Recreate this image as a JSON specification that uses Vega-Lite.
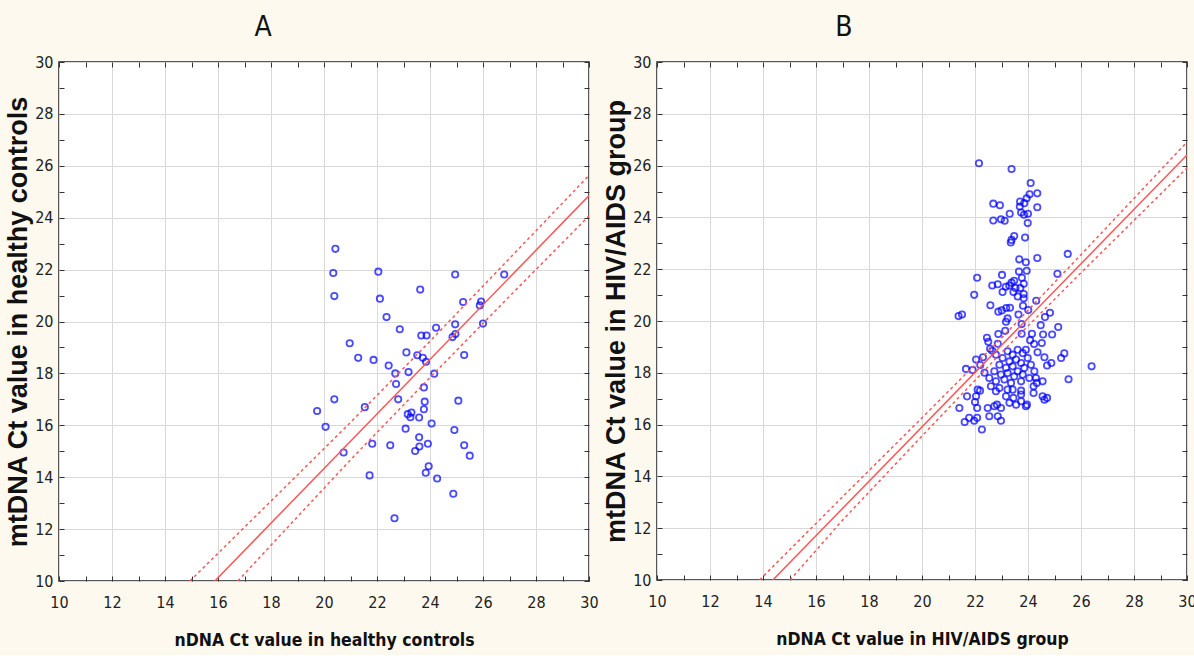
{
  "$schema": "https://vega.github.io/schema/vega-lite/v6.json",
  "background": "#fdf9ef",
  "padding": {"left": 3, "top": 13, "right": 0, "bottom": 5},
  "spacing": 2,
  "config": {
    "view": {"fill": "white", "stroke": "#222", "strokeWidth": 1.5},
    "axis": {
      "labelFont": "DejaVu Sans Condensed, Liberation Sans",
      "labelFontSize": 16,
      "labelColor": "#222",
      "tickColor": "#333",
      "domain": false,
      "labelFlush": false,
      "labelOverlap": false
    },
    "title": {"font": "DejaVu Sans Condensed, Liberation Sans", "fontSize": 28, "fontWeight": "normal", "color": "#111"}
  },
  "datasets": {
    "a": [
      {"x":20.43,"y":22.80},{"x":20.35,"y":21.87},{"x":22.05,"y":21.92},{"x":24.95,"y":21.81},{"x":26.80,"y":21.81},
      {"x":20.39,"y":20.98},{"x":23.63,"y":21.23},{"x":22.11,"y":20.88},{"x":25.25,"y":20.75},{"x":25.93,"y":20.77},
      {"x":25.88,"y":20.62},{"x":22.36,"y":20.17},{"x":22.86,"y":19.70},{"x":24.23,"y":19.76},{"x":24.95,"y":19.89},
      {"x":23.67,"y":19.46},{"x":23.87,"y":19.46},{"x":24.85,"y":19.40},{"x":24.96,"y":19.52},{"x":26.0,"y":19.92},
      {"x":20.97,"y":19.16},{"x":21.29,"y":18.60},{"x":21.87,"y":18.52},{"x":22.44,"y":18.30},{"x":23.11,"y":18.81},
      {"x":23.52,"y":18.70},{"x":23.73,"y":18.60},{"x":23.85,"y":18.45},{"x":22.69,"y":18.00},{"x":23.19,"y":18.05},
      {"x":24.16,"y":17.99},{"x":22.72,"y":17.59},{"x":25.29,"y":18.71},{"x":23.77,"y":17.46},{"x":20.39,"y":17.00},
      {"x":22.80,"y":17.00},{"x":23.80,"y":16.91},{"x":25.07,"y":16.95},{"x":19.74,"y":16.55},{"x":21.54,"y":16.70},
      {"x":23.77,"y":16.62},{"x":23.16,"y":16.43},{"x":23.30,"y":16.49},{"x":23.26,"y":16.31},{"x":23.59,"y":16.30},
      {"x":20.06,"y":15.94},{"x":23.08,"y":15.87},{"x":24.06,"y":16.07},{"x":24.92,"y":15.82},{"x":23.59,"y":15.54},
      {"x":23.60,"y":15.18},{"x":21.82,"y":15.29},{"x":22.50,"y":15.23},{"x":23.44,"y":15.01},{"x":23.92,"y":15.29},
      {"x":25.29,"y":15.23},{"x":25.50,"y":14.83},{"x":20.74,"y":14.95},{"x":23.95,"y":14.42},{"x":23.84,"y":14.17},
      {"x":24.27,"y":13.95},{"x":21.72,"y":14.07},{"x":24.88,"y":13.36},{"x":22.66,"y":12.42}
    ],
    "fitA": [{"x":15.88,"y":10.0},{"x":30,"y":24.85}],
    "bandA": [
      {"band":"upper","x":14.94,"y":10.0},{"band":"upper","x":18,"y":13.08},{"band":"upper","x":21,"y":16.11},
      {"band":"upper","x":24,"y":19.24},{"band":"upper","x":27,"y":22.43},{"band":"upper","x":30,"y":25.63},
      {"band":"lower","x":16.75,"y":10.0},{"band":"lower","x":18,"y":11.38},{"band":"lower","x":21,"y":14.67},
      {"band":"lower","x":24,"y":17.84},{"band":"lower","x":27,"y":20.97},{"band":"lower","x":30,"y":24.07}
    ],
    "b": [
      {"x":22.15,"y":26.09},{"x":23.38,"y":25.87},{"x":24.10,"y":25.33},{"x":24.35,"y":24.93},{"x":24.06,"y":24.89},
      {"x":23.95,"y":24.74},{"x":23.86,"y":24.55},{"x":23.70,"y":24.61},{"x":23.69,"y":24.42},{"x":22.69,"y":24.53},
      {"x":22.94,"y":24.47},{"x":24.35,"y":24.39},{"x":23.31,"y":24.14},{"x":23.74,"y":24.19},{"x":23.85,"y":24.10},
      {"x":24.0,"y":24.14},{"x":22.69,"y":23.88},{"x":22.98,"y":23.93},{"x":23.12,"y":23.87},{"x":23.99,"y":23.78},
      {"x":23.48,"y":23.28},{"x":23.38,"y":23.13},{"x":23.35,"y":23.03},{"x":23.89,"y":23.22},
      {"x":25.5,"y":22.59},{"x":24.35,"y":22.43},{"x":23.67,"y":22.38},{"x":23.92,"y":22.27},{"x":23.66,"y":21.91},
      {"x":23.95,"y":21.94},{"x":25.11,"y":21.82},{"x":22.08,"y":21.67},{"x":23.02,"y":21.78},{"x":23.38,"y":21.48},
      {"x":23.48,"y":21.55},{"x":23.77,"y":21.67},{"x":22.65,"y":21.37},{"x":22.86,"y":21.42},{"x":23.16,"y":21.32},
      {"x":23.29,"y":21.37},{"x":23.53,"y":21.27},{"x":23.71,"y":21.27},{"x":23.84,"y":21.44},{"x":23.04,"y":21.12},
      {"x":23.45,"y":21.12},{"x":23.61,"y":20.95},{"x":23.84,"y":21.04},{"x":21.97,"y":21.01},{"x":23.84,"y":20.88},
      {"x":24.31,"y":20.78},{"x":22.58,"y":20.61},{"x":23.81,"y":20.59},{"x":22.88,"y":20.36},{"x":23.01,"y":20.41},
      {"x":23.18,"y":20.50},{"x":23.32,"y":20.51},{"x":24.01,"y":20.42},{"x":24.83,"y":20.32},{"x":21.38,"y":20.19},
      {"x":21.51,"y":20.25},{"x":23.64,"y":20.25},{"x":24.64,"y":20.15},{"x":23.17,"y":19.97},{"x":23.76,"y":19.88},
      {"x":24.48,"y":19.84},{"x":23.23,"y":20.10},{"x":25.14,"y":19.77},{"x":22.45,"y":19.35},{"x":22.88,"y":19.50},
      {"x":23.14,"y":19.62},{"x":23.76,"y":19.51},{"x":24.15,"y":19.51},{"x":24.57,"y":19.48},{"x":24.91,"y":19.48},
      {"x":22.57,"y":18.93},{"x":22.86,"y":19.12},{"x":24.08,"y":19.26},{"x":24.23,"y":19.11},{"x":24.52,"y":19.15},
      {"x":22.04,"y":18.51},{"x":22.79,"y":18.70},{"x":24.36,"y":18.79},{"x":24.62,"y":18.60},{"x":25.25,"y":18.57},
      {"x":25.37,"y":18.75},{"x":24.88,"y":18.38},{"x":24.72,"y":18.28},{"x":26.40,"y":18.25},{"x":21.66,"y":18.15},
      {"x":21.91,"y":18.11},{"x":22.36,"y":18.0},{"x":25.53,"y":17.75},
      {"x":23.23,"y":18.83},{"x":23.42,"y":18.70},{"x":23.61,"y":18.89},{"x":23.80,"y":18.76},{"x":23.92,"y":18.89},
      {"x":23.04,"y":18.57},{"x":23.30,"y":18.44},{"x":23.55,"y":18.51},{"x":23.74,"y":18.38},{"x":23.99,"y":18.57},
      {"x":22.92,"y":18.31},{"x":23.17,"y":18.19},{"x":23.42,"y":18.25},{"x":23.61,"y":18.06},{"x":23.86,"y":18.19},
      {"x":24.11,"y":18.31},{"x":24.24,"y":18.06},{"x":22.73,"y":18.06},{"x":22.98,"y":17.93},{"x":23.23,"y":17.99},
      {"x":23.48,"y":17.86},{"x":23.80,"y":17.93},{"x":24.05,"y":17.80},{"x":24.30,"y":17.80},{"x":22.54,"y":17.80},
      {"x":22.79,"y":17.67},{"x":23.11,"y":17.74},{"x":23.36,"y":17.61},{"x":23.74,"y":17.67},{"x":24.55,"y":17.67},
      {"x":22.60,"y":17.48},{"x":22.92,"y":17.41},{"x":23.23,"y":17.35},{"x":23.42,"y":17.35},{"x":23.74,"y":17.31},
      {"x":24.21,"y":17.48},{"x":24.33,"y":17.61},{"x":22.79,"y":17.29},{"x":23.17,"y":17.09},{"x":23.45,"y":17.03},
      {"x":23.74,"y":17.16},{"x":24.21,"y":17.22},{"x":24.55,"y":17.09},{"x":24.72,"y":17.03},{"x":24.62,"y":16.96},
      {"x":23.30,"y":16.84},{"x":23.55,"y":16.77},{"x":23.92,"y":16.71},{"x":23.96,"y":16.77},{"x":23.74,"y":16.90},
      {"x":22.10,"y":17.35},{"x":22.04,"y":17.09},{"x":22.0,"y":16.87},{"x":22.19,"y":17.31},{"x":21.70,"y":17.09},
      {"x":21.41,"y":16.64},{"x":22.08,"y":16.64},{"x":22.48,"y":16.64},{"x":22.73,"y":16.71},{"x":22.83,"y":16.77},
      {"x":22.98,"y":16.64},{"x":22.54,"y":16.32},{"x":22.86,"y":16.32},{"x":22.98,"y":16.15},{"x":21.78,"y":16.26},
      {"x":22.08,"y":16.26},{"x":21.61,"y":16.10},{"x":21.97,"y":16.15},{"x":22.26,"y":15.81},
      {"x":22.5,"y":19.2},{"x":22.65,"y":18.85},{"x":22.3,"y":18.6},{"x":22.2,"y":18.3}
    ],
    "fitB": [{"x":14.37,"y":10.0},{"x":30,"y":26.41}],
    "bandB": [
      {"band":"upper","x":13.87,"y":10.0},{"band":"upper","x":17,"y":13.21},{"band":"upper","x":20,"y":16.26},
      {"band":"upper","x":23,"y":19.34},{"band":"upper","x":26,"y":22.56},{"band":"upper","x":30,"y":26.91},
      {"band":"lower","x":15.02,"y":10.0},{"band":"lower","x":17,"y":12.31},{"band":"lower","x":20,"y":15.56},
      {"band":"lower","x":23,"y":18.78},{"band":"lower","x":26,"y":21.86},{"band":"lower","x":30,"y":25.91}
    ]
  },
  "hconcat": [
    {
      "title": {"text": "A", "dx": -61, "offset": 12},
      "width": 530,
      "height": 519,
      "resolve": {"axis": {"x": "independent", "y": "independent"}},
      "layer": [
        {
          "data": {"name": "a"},
          "mark": {"type": "point", "shape": "circle", "filled": false, "color": "#0000ff", "size": 40, "strokeWidth": 1.8},
          "encoding": {
            "x": {"field": "x", "type": "quantitative", "scale": {"domain": [10, 30], "nice": false, "zero": false},
              "axis": {"values": [10,11,12,13,14,15,16,17,18,19,20,21,22,23,24,25,26,27,28,29,30],
                "labelExpr": "datum.value % 2 === 0 ? datum.label : ''",
                "gridColor": "#d9d9d9", "gridOpacity": {"condition": {"test": "datum.value % 2 === 0", "value": 1}, "value": 0},
                "tickSize": -5, "labelPadding": 18,
                "title": "nDNA Ct value in healthy controls", "titleFont": "DejaVu Sans Condensed, Liberation Sans", "titleFontSize": 17.5, "titleFontWeight": "bold", "titleColor": "#111", "titlePadding": 21}},
            "y": {"field": "y", "type": "quantitative", "scale": {"domain": [10, 30], "nice": false, "zero": false},
              "axis": {"values": [10,11,12,13,14,15,16,17,18,19,20,21,22,23,24,25,26,27,28,29,30],
                "labelExpr": "datum.value % 2 === 0 ? datum.label : ''",
                "gridColor": "#d9d9d9", "gridOpacity": {"condition": {"test": "datum.value % 2 === 0", "value": 1}, "value": 0},
                "tickSize": -5, "labelPadding": 11,
                "title": "mtDNA Ct value in healthy controls", "titleFont": "Liberation Sans", "titleFontSize": 27, "titleFontWeight": "bold", "titleColor": "#111", "titlePadding": 2}}
          }
        },
        {
          "data": {"name": "fitA"},
          "mark": {"type": "line", "color": "#f55", "strokeWidth": 1.5, "clip": true},
          "encoding": {
            "x": {"field": "x", "type": "quantitative", "axis": {"orient": "top", "values": [10,11,12,13,14,15,16,17,18,19,20,21,22,23,24,25,26,27,28,29,30], "labels": false, "grid": false, "tickSize": -5, "title": null}},
            "y": {"field": "y", "type": "quantitative", "axis": {"orient": "right", "values": [10,11,12,13,14,15,16,17,18,19,20,21,22,23,24,25,26,27,28,29,30], "labels": false, "grid": false, "tickSize": -5, "title": null}}
          }
        },
        {
          "data": {"name": "bandA"},
          "mark": {"type": "line", "color": "#f55", "strokeWidth": 1.5, "strokeDash": [3, 3], "clip": true},
          "encoding": {
            "x": {"field": "x", "type": "quantitative", "axis": null},
            "y": {"field": "y", "type": "quantitative", "axis": null},
            "detail": {"field": "band"}
          }
        }
      ]
    },
    {
      "title": {"text": "B", "dx": -78, "offset": 12},
      "width": 530,
      "height": 518,
      "resolve": {"axis": {"x": "independent", "y": "independent"}},
      "layer": [
        {
          "data": {"name": "b"},
          "mark": {"type": "point", "shape": "circle", "filled": false, "color": "#0000ff", "size": 40, "strokeWidth": 1.8},
          "encoding": {
            "x": {"field": "x", "type": "quantitative", "scale": {"domain": [10, 30], "nice": false, "zero": false},
              "axis": {"values": [10,11,12,13,14,15,16,17,18,19,20,21,22,23,24,25,26,27,28,29,30],
                "labelExpr": "datum.value % 2 === 0 ? datum.label : ''",
                "gridColor": "#d9d9d9", "gridOpacity": {"condition": {"test": "datum.value % 2 === 0", "value": 1}, "value": 0},
                "tickSize": -5, "labelPadding": 18,
                "title": "nDNA Ct value in HIV/AIDS group", "titleFont": "DejaVu Sans Condensed, Liberation Sans", "titleFontSize": 17.5, "titleFontWeight": "bold", "titleColor": "#111", "titlePadding": 21}},
            "y": {"field": "y", "type": "quantitative", "scale": {"domain": [10, 30], "nice": false, "zero": false},
              "axis": {"values": [10,11,12,13,14,15,16,17,18,19,20,21,22,23,24,25,26,27,28,29,30],
                "labelExpr": "datum.value % 2 === 0 ? datum.label : ''",
                "gridColor": "#d9d9d9", "gridOpacity": {"condition": {"test": "datum.value % 2 === 0", "value": 1}, "value": 0},
                "tickSize": -5, "labelPadding": 11,
                "title": "mtDNA Ct value in HIV/AIDS group", "titleFont": "Liberation Sans", "titleFontSize": 27, "titleFontWeight": "bold", "titleColor": "#111", "titlePadding": 2}}
          }
        },
        {
          "data": {"name": "fitB"},
          "mark": {"type": "line", "color": "#f55", "strokeWidth": 1.5, "clip": true},
          "encoding": {
            "x": {"field": "x", "type": "quantitative", "axis": {"orient": "top", "values": [10,11,12,13,14,15,16,17,18,19,20,21,22,23,24,25,26,27,28,29,30], "labels": false, "grid": false, "tickSize": -5, "title": null}},
            "y": {"field": "y", "type": "quantitative", "axis": {"orient": "right", "values": [10,11,12,13,14,15,16,17,18,19,20,21,22,23,24,25,26,27,28,29,30], "labels": false, "grid": false, "tickSize": -5, "title": null}}
          }
        },
        {
          "data": {"name": "bandB"},
          "mark": {"type": "line", "color": "#f55", "strokeWidth": 1.5, "strokeDash": [3, 3], "clip": true},
          "encoding": {
            "x": {"field": "x", "type": "quantitative", "axis": null},
            "y": {"field": "y", "type": "quantitative", "axis": null},
            "detail": {"field": "band"}
          }
        }
      ]
    }
  ]
}
